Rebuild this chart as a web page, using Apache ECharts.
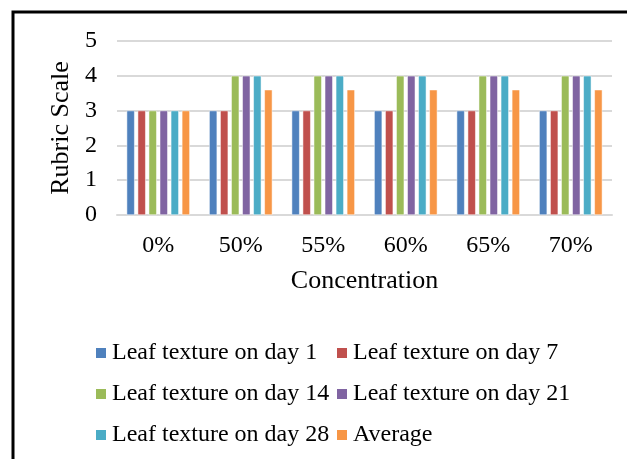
<!DOCTYPE html>
<html>
<head>
<meta charset="utf-8">
<script src="https://cdn.jsdelivr.net/npm/echarts@6/dist/echarts.min.js"></script>
<style>
  html, body { margin: 0; padding: 0; background: #fff; }
  #main { width: 627px; height: 459px; }
</style>
</head>
<body>
<div id="main"></div>
<script>
// categories and values
const concentrations = ['0%', '50%', '55%', '60%', '65%', '70%'];
const day1 = [3, 3, 3, 3, 3, 3];
const day7 = [3, 3, 3, 3, 3, 3];
const day14 = [3, 4, 4, 4, 4, 4];
const day21 = [3, 4, 4, 4, 4, 4];
const day28 = [3, 4, 4, 4, 4, 4];
const average = [3, 3.6, 3.6, 3.6, 3.6, 3.6];
const yTicks = [0, 1, 2, 3, 4, 5];

const seriesNames = ['Leaf texture on day 1', 'Leaf texture on day 7', 'Leaf texture on day 14',
  'Leaf texture on day 21', 'Leaf texture on day 28', 'Average'];
const seriesData = [day1, day7, day14, day21, day28, average];
const colors = ['#4f81bd', '#c0504d', '#9bbb59', '#8064a2', '#4bacc6', '#f79646'];

const font = '"Liberation Serif", "Times New Roman", serif';

const chart = echarts.init(document.getElementById('main'));

const legendCommon = {
  orient: 'vertical',
  icon: 'rect',
  itemWidth: 12,
  itemHeight: 12,
  itemGap: 17,
  top: 336,
  textStyle: { fontFamily: font, fontSize: 24, color: '#000' }
};

chart.setOption({
  animation: false,
  color: colors,
  graphic: [{
    type: 'rect',
    shape: { x: 13, y: 12, width: 640, height: 470 },
    style: { fill: 'none', stroke: '#000', lineWidth: 3 }
  }],
  legend: [
    Object.assign({ left: 89, data: [seriesNames[0], seriesNames[2], seriesNames[4]] }, legendCommon),
    Object.assign({ left: 330, data: [seriesNames[1], seriesNames[3], seriesNames[5]] }, legendCommon)
  ],
  grid: { left: 117, right: 15, top: 41, height: 174, containLabel: false },
  xAxis: {
    type: 'category',
    data: concentrations,
    name: 'Concentration',
    nameLocation: 'middle',
    nameGap: 53,
    nameTextStyle: { fontFamily: font, fontSize: 26, color: '#000' },
    axisLine: { lineStyle: { color: '#d9d9d9', width: 2 } },
    axisTick: { show: false },
    axisLabel: { fontFamily: font, fontSize: 24, color: '#000', margin: 19 }
  },
  yAxis: {
    type: 'value',
    min: yTicks[0],
    max: yTicks[yTicks.length - 1],
    interval: 1,
    name: 'Rubric Scale',
    nameLocation: 'middle',
    nameGap: 43,
    nameRotate: 90,
    nameTextStyle: { fontFamily: font, fontSize: 26, color: '#000' },
    axisLine: { show: false },
    axisTick: { show: false },
    splitLine: { lineStyle: { color: '#d9d9d9', width: 2 } },
    axisLabel: { fontFamily: font, fontSize: 24, color: '#000', margin: 20 }
  },
  series: seriesNames.map((name, i) => ({
    name: name,
    type: 'bar',
    data: seriesData[i],
    barWidth: 8,
    barGap: '38%',
    itemStyle: { borderColor: '#fff', borderWidth: 0.5 }
  }))
});
</script>
</body>
</html>
